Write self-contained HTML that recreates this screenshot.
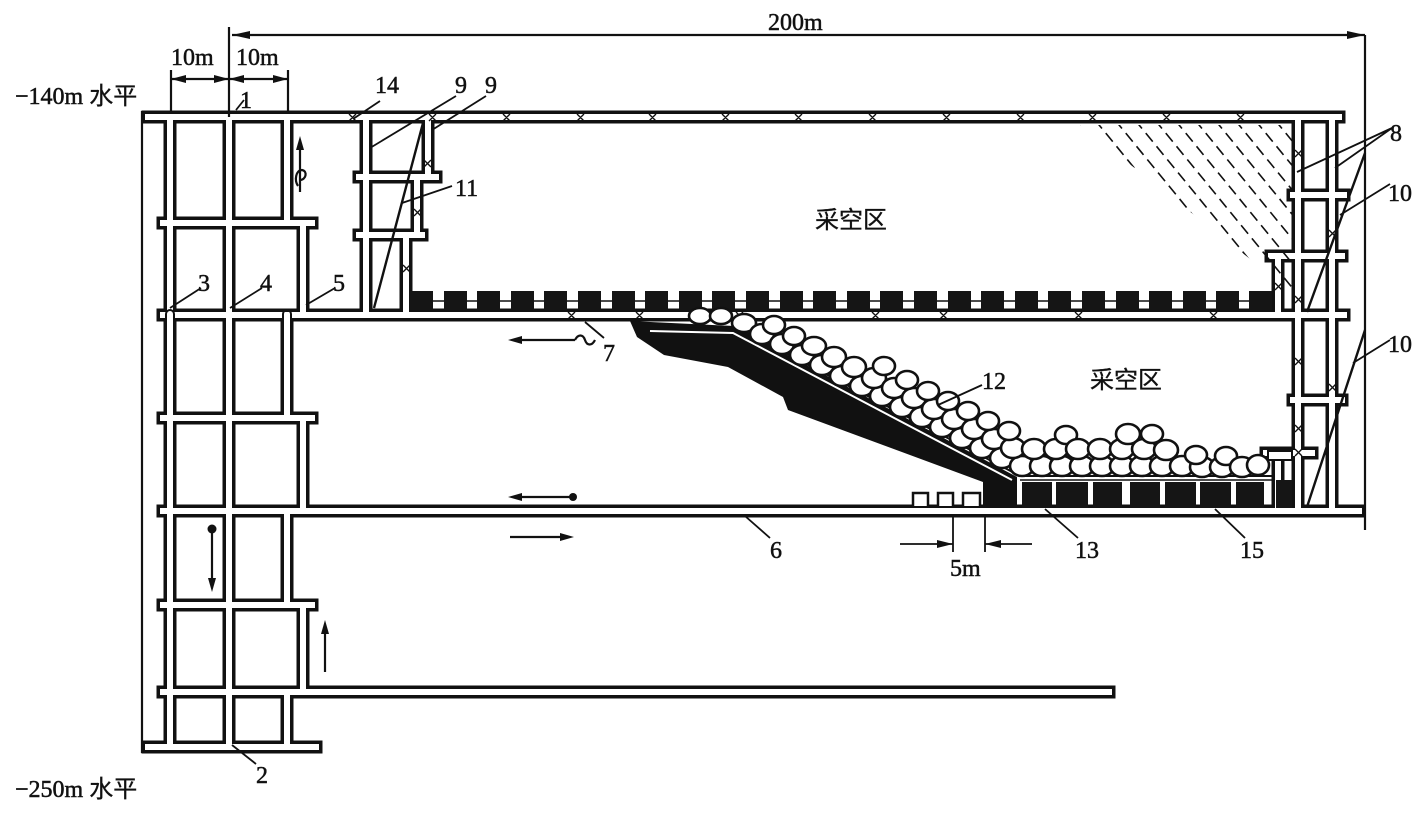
<!DOCTYPE html>
<html><head><meta charset="utf-8"><style>
html,body{margin:0;padding:0;background:#fff}
svg{display:block}
text{font-family:"Liberation Serif","Noto Serif CJK SC",serif;fill:#111;stroke:#111;stroke-width:0.5}
.c{font-family:"Liberation Sans","Noto Sans CJK SC",sans-serif;stroke-width:0.3}
</style></head><body>
<svg width="1422" height="815" viewBox="0 0 1422 815" xmlns="http://www.w3.org/2000/svg">
<defs>
<clipPath id="tri"><polygon points="1080,125 1292,125 1292,292"/></clipPath>
</defs>
<rect width="1422" height="815" fill="#fff"/>
<g stroke="#111" stroke-width="13" stroke-linecap="square" fill="none">
<path d="M148,117H1339 M148,747H316 M170,117V747 M229,117V747
M287,117V223 M303,223V315 M287,315V418 M303,418V511 M287,511V605 M303,605V692 M287,692V747
M163,223H312 M163,315H1344 M163,418H312 M163,511H1359 M163,605H312 M163,692H1109
M366,117V315 M359,177H436 M428,117V177 M417,177V235 M359,235H422 M406,235V315
M1298,117V511 M1332,117V511 M1293,195H1344 M1271,256H1342 M1278,256V315 M1293,400H1342 M1266,453H1312 M1278,453V511"/>
</g>
<g stroke="#fff" stroke-width="6" stroke-linecap="square" fill="none">
<path d="M148,117H1339 M148,747H316 M170,117V747 M229,117V747
M287,117V223 M303,223V315 M287,315V418 M303,418V511 M287,511V605 M303,605V692 M287,692V747
M163,223H312 M163,315H1344 M163,418H312 M163,511H1359 M163,605H312 M163,692H1109
M366,117V315 M359,177H436 M428,117V177 M417,177V235 M359,235H422 M406,235V315
M1298,117V511 M1332,117V511 M1293,195H1344 M1271,256H1342 M1278,256V315 M1293,400H1342 M1266,453H1312 M1278,453V511"/>
</g>
<g stroke="#111" stroke-width="2.2" fill="none">
<path d="M142,111V753 M1365,35V530 M229,27V117 M171,70V112 M288,70V112"/>
<path d="M232,35H1365 M171,79H288"/>
</g>
<g fill="#111">
<polygon points="232,35 250,31 250,39"/><polygon points="1365,35 1347,31 1347,39"/>
<polygon points="171,79 186,75 186,83"/><polygon points="229,79 214,75 214,83"/>
<polygon points="229,79 244,75 244,83"/><polygon points="288,79 273,75 273,83"/>
</g>
<g clip-path="url(#tri)" stroke="#111" stroke-width="1.6" stroke-dasharray="11,6">
<path d="M1015,120l180,220 M1035,120l180,220 M1055,120l180,220 M1075,120l180,220 M1095,120l180,220 M1115,120l180,220 M1135,120l180,220 M1155,120l180,220 M1175,120l180,220 M1195,120l180,220 M1215,120l180,220 M1235,120l180,220 M1255,120l180,220 M1275,120l180,220"/>
</g>
<line x1="410" y1="301" x2="1272" y2="301" stroke="#111" stroke-width="1.5"/>
<g fill="#151515">
<rect x="410" y="291" width="23" height="19"/><rect x="444" y="291" width="23" height="19"/><rect x="477" y="291" width="23" height="19"/><rect x="511" y="291" width="23" height="19"/><rect x="544" y="291" width="23" height="19"/><rect x="578" y="291" width="23" height="19"/><rect x="612" y="291" width="23" height="19"/><rect x="645" y="291" width="23" height="19"/><rect x="679" y="291" width="23" height="19"/><rect x="712" y="291" width="23" height="19"/><rect x="746" y="291" width="23" height="19"/><rect x="780" y="291" width="23" height="19"/><rect x="813" y="291" width="23" height="19"/><rect x="847" y="291" width="23" height="19"/><rect x="880" y="291" width="23" height="19"/><rect x="914" y="291" width="23" height="19"/><rect x="948" y="291" width="23" height="19"/><rect x="981" y="291" width="23" height="19"/><rect x="1015" y="291" width="23" height="19"/><rect x="1048" y="291" width="23" height="19"/><rect x="1082" y="291" width="23" height="19"/><rect x="1116" y="291" width="23" height="19"/><rect x="1149" y="291" width="23" height="19"/><rect x="1183" y="291" width="23" height="19"/><rect x="1216" y="291" width="23" height="19"/><rect x="1249" y="291" width="23" height="19"/>
</g>
<g stroke="#111" stroke-width="1.4">
<path d="M349,114l7,7m0-7l-7,7 M429,114l7,7m0-7l-7,7 M503,114l7,7m0-7l-7,7 M577,114l7,7m0-7l-7,7 M649,114l7,7m0-7l-7,7 M722,114l7,7m0-7l-7,7 M795,114l7,7m0-7l-7,7 M869,114l7,7m0-7l-7,7 M943,114l7,7m0-7l-7,7 M1017,114l7,7m0-7l-7,7 M1089,114l7,7m0-7l-7,7 M1163,114l7,7m0-7l-7,7 M1237,114l7,7m0-7l-7,7"/>
<path d="M424,160l7,7m0-7l-7,7 M414,209l7,7m0-7l-7,7 M403,265l7,7m0-7l-7,7"/>
<path d="M568,312l7,7m0-7l-7,7 M636,312l7,7m0-7l-7,7 M736,312l7,7m0-7l-7,7 M872,312l7,7m0-7l-7,7 M940,312l7,7m0-7l-7,7 M1075,312l7,7m0-7l-7,7 M1210,312l7,7m0-7l-7,7"/>
<path d="M1295,150l7,7m0-7l-7,7 M1329,230l7,7m0-7l-7,7 M1275,283l7,7m0-7l-7,7 M1295,296l7,7m0-7l-7,7 M1295,358l7,7m0-7l-7,7 M1329,384l7,7m0-7l-7,7 M1295,425l7,7m0-7l-7,7 M1295,449l7,7m0-7l-7,7"/>
</g>
<polygon points="630,321 733,326 1017,477 1017,508 983,508 983,482 788,410 783,397 728,367 664,355 637,337" fill="#111"/>
<polyline points="650,331 733,333 1012,480" fill="none" stroke="#fff" stroke-width="2"/>
<polyline points="668,326 736,327 1020,476 1275,476" fill="none" stroke="#111" stroke-width="2"/>
<line x1="1020" y1="480" x2="1275" y2="480" stroke="#111" stroke-width="1.5"/>
<g fill="#151515">
<rect x="1022" y="482" width="30" height="26"/><rect x="1056" y="482" width="32" height="26"/><rect x="1093" y="482" width="29" height="26"/><rect x="1130" y="482" width="30" height="26"/><rect x="1165" y="482" width="31" height="26"/><rect x="1200" y="482" width="31" height="26"/><rect x="1236" y="482" width="28" height="26"/><rect x="1276" y="480" width="16" height="28"/>
</g>
<path d="M913,506V493H928V506 M938,506V493H953V506 M963,506V493H980V506" fill="#fff" stroke="#111" stroke-width="2.5"/>
<g fill="#fff" stroke="#111" stroke-width="2.6">
<ellipse cx="700" cy="316" rx="11" ry="8"/><ellipse cx="721" cy="316" rx="11" ry="8"/><ellipse cx="744" cy="323" rx="12" ry="9"/>
<ellipse cx="762" cy="334" rx="12" ry="10"/><ellipse cx="782" cy="344" rx="12" ry="10"/><ellipse cx="774" cy="325" rx="11" ry="9"/>
<ellipse cx="802" cy="355" rx="12" ry="10"/><ellipse cx="794" cy="336" rx="11" ry="9"/><ellipse cx="822" cy="365" rx="12" ry="10"/><ellipse cx="814" cy="346" rx="12" ry="9"/>
<ellipse cx="842" cy="376" rx="12" ry="10"/><ellipse cx="834" cy="357" rx="12" ry="10"/><ellipse cx="862" cy="386" rx="12" ry="10"/><ellipse cx="854" cy="367" rx="12" ry="10"/>
<ellipse cx="882" cy="396" rx="12" ry="10"/><ellipse cx="874" cy="378" rx="12" ry="10"/><ellipse cx="902" cy="407" rx="12" ry="10"/><ellipse cx="894" cy="388" rx="12" ry="10"/><ellipse cx="884" cy="366" rx="11" ry="9"/>
<ellipse cx="922" cy="417" rx="12" ry="10"/><ellipse cx="914" cy="398" rx="12" ry="10"/><ellipse cx="907" cy="380" rx="11" ry="9"/>
<ellipse cx="942" cy="427" rx="12" ry="10"/><ellipse cx="934" cy="409" rx="12" ry="10"/><ellipse cx="928" cy="391" rx="11" ry="9"/>
<ellipse cx="962" cy="438" rx="12" ry="10"/><ellipse cx="954" cy="419" rx="12" ry="10"/><ellipse cx="948" cy="401" rx="11" ry="9"/>
<ellipse cx="982" cy="448" rx="12" ry="10"/><ellipse cx="974" cy="429" rx="12" ry="10"/><ellipse cx="968" cy="411" rx="11" ry="9"/>
<ellipse cx="1002" cy="458" rx="12" ry="10"/><ellipse cx="994" cy="439" rx="12" ry="10"/><ellipse cx="988" cy="421" rx="11" ry="9"/>
<ellipse cx="1022" cy="466" rx="12" ry="10"/><ellipse cx="1013" cy="448" rx="12" ry="10"/><ellipse cx="1009" cy="431" rx="11" ry="9"/>
<ellipse cx="1042" cy="466" rx="12" ry="10"/><ellipse cx="1034" cy="449" rx="12" ry="10"/><ellipse cx="1062" cy="466" rx="12" ry="10"/><ellipse cx="1056" cy="449" rx="12" ry="10"/><ellipse cx="1066" cy="435" rx="11" ry="9"/>
<ellipse cx="1082" cy="466" rx="12" ry="10"/><ellipse cx="1078" cy="449" rx="12" ry="10"/><ellipse cx="1102" cy="466" rx="12" ry="10"/><ellipse cx="1100" cy="449" rx="12" ry="10"/>
<ellipse cx="1122" cy="466" rx="12" ry="10"/><ellipse cx="1122" cy="449" rx="12" ry="10"/><ellipse cx="1128" cy="434" rx="12" ry="10"/><ellipse cx="1142" cy="466" rx="12" ry="10"/><ellipse cx="1144" cy="449" rx="12" ry="10"/><ellipse cx="1152" cy="434" rx="11" ry="9"/>
<ellipse cx="1162" cy="466" rx="12" ry="10"/><ellipse cx="1166" cy="450" rx="12" ry="10"/><ellipse cx="1182" cy="466" rx="12" ry="10"/><ellipse cx="1202" cy="467" rx="12" ry="10"/><ellipse cx="1196" cy="455" rx="11" ry="9"/>
<ellipse cx="1222" cy="467" rx="12" ry="10"/><ellipse cx="1226" cy="456" rx="11" ry="9"/><ellipse cx="1242" cy="467" rx="12" ry="10"/><ellipse cx="1258" cy="465" rx="11" ry="10"/>
</g>
<rect x="1268" y="451" width="24" height="9" fill="#fff" stroke="#111" stroke-width="2"/>
<g stroke="#111" stroke-width="2.4">
<line x1="374" y1="308" x2="423" y2="123"/>
<line x1="1307" y1="312" x2="1365" y2="153"/>
<line x1="1307" y1="507" x2="1365" y2="330"/>
</g>
<g stroke="#111" stroke-width="1.8">
<path d="M236,110L244,100 M353,119L380,101 M370,148L456,96 M432,130L486,96 M402,203L452,186 M170,308L201,288 M230,308L262,288 M306,305L335,288
M585,322L604,338 M938,405L982,385 M1297,172L1392,128 M1335,168L1392,128 M1340,215L1390,184 M1353,363L1390,340
M745,516L770,538 M1045,509L1078,538 M1215,509L1245,538 M232,745L256,764"/>
<path d="M953,515V552 M985,515V552 M900,544H953 M985,544H1032"/>
</g>
<g fill="#111">
<polygon points="953,544 937,540 937,548"/><polygon points="985,544 1001,540 1001,548"/>
</g>
<g stroke="#111" stroke-width="2.2" fill="none">
<path d="M300,192V142"/><path d="M300,180c6,0 8,-9 2,-10c-6,0-8,10-4,16"/>
<path d="M575,340H515"/><path d="M575,340c3,-6 8,-6 10,0s7,6 10,0"/>
<path d="M573,497H515"/>
<path d="M510,537H568"/>
<path d="M212,530V585"/>
<path d="M325,672V627"/>
</g>
<g fill="#111">
<polygon points="300,136 296,150 304,150"/>
<polygon points="508,340 522,336 522,344"/>
<polygon points="508,497 522,493 522,501"/><circle cx="573" cy="497" r="4"/>
<polygon points="574,537 560,533 560,541"/>
<circle cx="212" cy="529" r="4.5"/><polygon points="212,592 208,578 216,578"/>
<polygon points="325,620 321,634 329,634"/>
</g>
<g fill="none" stroke="#111" stroke-width="2"><path d="M166,320V314a4,4 0 0 1 8,0V320 M283,320V314a4,4 0 0 1 8,0V320"/></g>
<g font-size="24">
<text x="768" y="30">200m</text>
<text x="171" y="65">10m</text><text x="236" y="65">10m</text>
<text x="15" y="104">−140m <tspan class="c">水平</tspan></text>
<text x="15" y="797">−250m <tspan class="c">水平</tspan></text>
<text x="240" y="108">1</text>
<text x="375" y="93">14</text>
<text x="455" y="93">9</text><text x="485" y="93">9</text>
<text x="455" y="196">11</text>
<text x="198" y="291">3</text><text x="260" y="291">4</text><text x="333" y="291">5</text>
<text x="603" y="361">7</text>
<text x="982" y="389">12</text>
<text x="1390" y="141">8</text>
<text x="1388" y="201">10</text>
<text x="1388" y="352">10</text>
<text x="770" y="558">6</text>
<text x="1075" y="558">13</text>
<text x="1240" y="558">15</text>
<text x="950" y="576">5m</text>
<text x="256" y="783">2</text>
<text x="815" y="228" class="c" font-size="24">采空区</text>
<text x="1090" y="388" class="c" font-size="24">采空区</text>
</g>
</svg>
</body></html>
